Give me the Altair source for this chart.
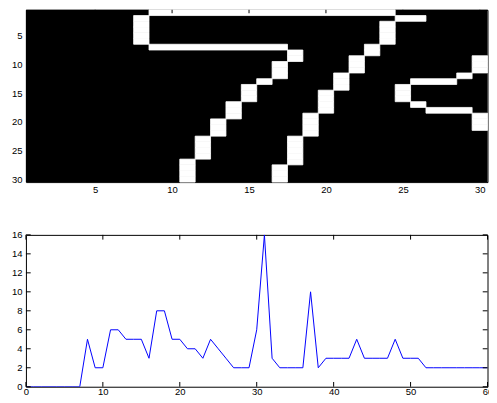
import altair as alt
import pandas as pd

# ---- top panel: 30x30 binary image, white runs (row, first column, last column)
run_row = [1, 2, 2, 3, 3, 4, 4, 5, 5, 6, 6, 7, 7, 8, 8, 9, 9, 9, 10, 10, 10,
           11, 11, 11, 12, 12, 12, 13, 13, 13, 14, 14, 14, 15, 15, 15, 16, 16, 16,
           17, 17, 17, 18, 18, 18, 19, 19, 19, 20, 20, 20, 21, 21, 21, 22, 22,
           23, 23, 24, 24, 25, 25, 26, 26, 27, 27, 28, 28, 29, 29, 30, 30]
run_start = [9, 8, 25, 8, 24, 8, 24, 8, 24, 8, 24, 9, 23, 18, 23, 18, 22, 30, 17, 22, 30,
             17, 22, 30, 17, 21, 29, 16, 21, 26, 15, 21, 25, 15, 20, 25, 15, 20, 25,
             14, 20, 26, 14, 20, 27, 14, 19, 30, 13, 19, 30, 13, 19, 30, 13, 19,
             12, 18, 12, 18, 12, 18, 12, 18, 11, 18, 11, 17, 11, 17, 11, 17]
run_end = [24, 8, 26, 8, 24, 8, 24, 8, 24, 8, 24, 17, 23, 18, 23, 18, 22, 30, 17, 22, 30,
           17, 22, 30, 17, 21, 29, 16, 21, 28, 15, 21, 25, 15, 20, 25, 15, 20, 25,
           14, 20, 26, 14, 20, 29, 14, 19, 30, 13, 19, 30, 13, 19, 30, 13, 19,
           12, 18, 12, 18, 12, 18, 12, 18, 11, 18, 11, 17, 11, 17, 11, 17]
img_ticks = [5, 10, 15, 20, 25, 30]

# ---- bottom panel: profile line
line_x = list(range(0, 61))
line_y = [0, 0, 0, 0, 0, 0, 0, 0, 5, 2, 2, 6, 6, 5, 5, 5, 3, 8, 8, 5, 5,
          4, 4, 3, 5, 4, 3, 2, 2, 2, 6, 16, 3, 2, 2, 2, 2, 10, 2, 3, 3,
          3, 3, 5, 3, 3, 3, 3, 5, 3, 3, 3, 2, 2, 2, 2, 2, 2, 2, 2, 2]
line_xticks = [0, 10, 20, 30, 40, 50, 60]
line_yticks = [0, 2, 4, 6, 8, 10, 12, 14, 16]

FONT = "Liberation Sans"
FS = 9.5
W = 463.5

runs = pd.DataFrame({"row": run_row, "c0": run_start, "c1": run_end})
runs["x"] = runs["c0"] - 0.5
runs["x2"] = runs["c1"] + 0.5
runs["y"] = runs["row"] - 0.5
runs["y2"] = runs["row"] + 0.5

ix = alt.Scale(domain=[0.5, 30.5], nice=False, zero=False)
iy = alt.Scale(domain=[0.5, 30.5], nice=False, zero=False, reverse=True)

ax_img_x = alt.Axis(values=img_ticks, labelPadding=2)
ax_img_y = alt.Axis(values=img_ticks, labelPadding=4)

bg = alt.Chart(pd.DataFrame({"a": [0]})).mark_rect(color="black").encode(
    x=alt.datum(0.5, scale=ix, axis=ax_img_x, type="quantitative"),
    x2=alt.datum(30.5),
    y=alt.datum(0.5, scale=iy, axis=ax_img_y, type="quantitative"),
    y2=alt.datum(30.5),
)
white = alt.Chart(runs).mark_rect(color="white", stroke="white", strokeWidth=0.8).encode(
    x=alt.X("x:Q", scale=ix, axis=ax_img_x),
    x2="x2",
    y=alt.Y("y:Q", scale=iy, axis=ax_img_y),
    y2="y2",
)
tdf = pd.DataFrame({"t": img_ticks})
img_top_ticks = alt.Chart(tdf).mark_rule(color="black", strokeWidth=1).encode(
    x=alt.X("t:Q", scale=ix, axis=ax_img_x),
    y=alt.datum(0.5, scale=iy, axis=ax_img_y, type="quantitative"),
    y2=alt.datum(1.1))
top = alt.layer(bg, white, img_top_ticks).properties(width=W, height=173)

# ---- bottom
ldf = pd.DataFrame({"x": line_x, "y": line_y})
lx = alt.Scale(domain=[0, 60], nice=False, zero=False)
ly = alt.Scale(domain=[0, 16], nice=False, zero=False)
ax_lx = alt.Axis(values=line_xticks, labelPadding=0)
ax_ly = alt.Axis(values=line_yticks, labelPadding=4)

line = alt.Chart(ldf).mark_line(color="#0000ff", strokeWidth=1, clip=True).encode(
    x=alt.X("x:Q", scale=lx, axis=ax_lx),
    y=alt.Y("y:Q", scale=ly, axis=ax_ly),
)
xt = pd.DataFrame({"t": line_xticks})
yt = pd.DataFrame({"t": line_yticks})
tick_b = alt.Chart(xt).mark_rule(color="black").encode(
    x=alt.X("t:Q", scale=lx, axis=ax_lx),
    y=alt.datum(0, scale=ly, axis=ax_ly, type="quantitative"), y2=alt.datum(0.5))
tick_t = alt.Chart(xt).mark_rule(color="black").encode(
    x=alt.X("t:Q", scale=lx, axis=ax_lx),
    y=alt.datum(16, scale=ly, axis=ax_ly, type="quantitative"), y2=alt.datum(15.5))
tick_l = alt.Chart(yt).mark_rule(color="black").encode(
    y=alt.Y("t:Q", scale=ly, axis=ax_ly),
    x=alt.datum(0, scale=lx, axis=ax_lx, type="quantitative"), x2=alt.datum(0.62))
tick_r = alt.Chart(yt).mark_rule(color="black").encode(
    y=alt.Y("t:Q", scale=ly, axis=ax_ly),
    x=alt.datum(60, scale=lx, axis=ax_lx, type="quantitative"), x2=alt.datum(59.38))
bottom = alt.layer(line, tick_b, tick_t, tick_l, tick_r).properties(width=W, height=152.5)

chart = alt.vconcat(top, bottom, spacing=35).properties(
    padding={"left": 2, "top": 0, "right": -4.5, "bottom": 0},
    background="white",
).configure_view(stroke="black", strokeWidth=1).configure_concat(spacing=35).configure_axis(
    ticks=False, domain=False, grid=False, title=None, labelFont=FONT, labelFontSize=FS,
    labelColor="black", labelOverlap=False, labelFlush=False, labelBound=False,
)

chart.save("out.html", embed_options={"renderer": "svg", "actions": False})
